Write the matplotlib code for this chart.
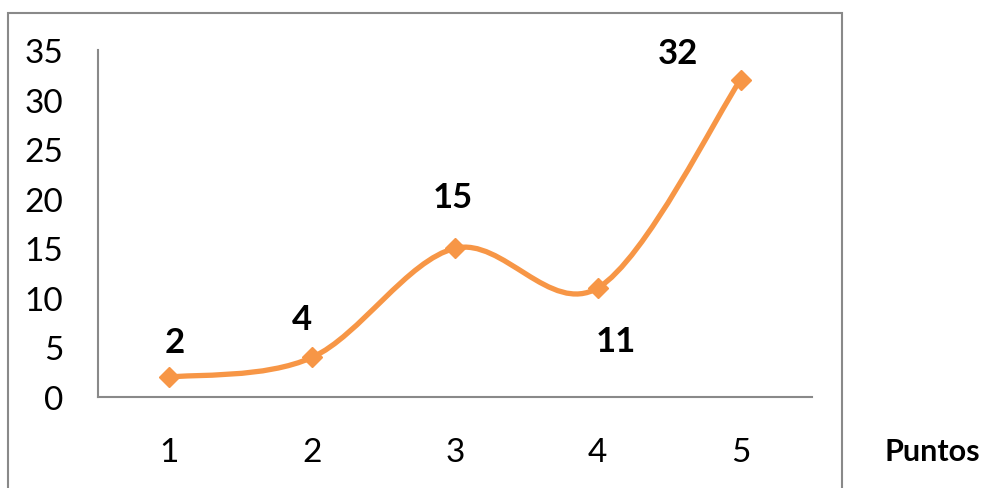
import numpy as np
import matplotlib
matplotlib.use('Agg')
import matplotlib.pyplot as plt
from matplotlib.path import Path
from matplotlib.patches import PathPatch, Rectangle

plt.rcParams['font.family'] = ['Lato', 'DejaVu Sans']

x_vals = [1, 2, 3, 4, 5]
y_vals = [2, 4, 15, 11, 32]
y_ticks = [0, 5, 10, 15, 20, 25, 30, 35]
x_label = 'Puntos'
# label offsets in pixels (dx, dy) relative to each point
label_offsets = [(5, 35), (-10, 38), (-2, 51), (18, -53), (-63, 27)]

ORANGE = '#F79646'
GRAY = '#898989'


def smooth_path(xs, ys):
    # Excel-style smoothed line: cubic Bezier through each pair of points
    pts = np.column_stack([xs, ys]).astype(float)
    n = len(pts)
    verts = [pts[0]]
    codes = [Path.MOVETO]
    for i in range(n - 1):
        p0 = pts[i - 1] if i > 0 else pts[i]
        p1 = pts[i]
        p2 = pts[i + 1]
        p3 = pts[i + 2] if i + 2 < n else pts[i + 1]
        c1 = p1 + (p2 - p0) / 6.0
        c2 = p2 - (p3 - p1) / 6.0
        verts += [c1, c2, p2]
        codes += [Path.CURVE4] * 3
    return Path(verts, codes)


fig = plt.figure(figsize=(9.89, 4.89), dpi=100)
W, H = 989, 489
ax = fig.add_axes([98 / W, (H - 398) / H, (812 - 98) / W, (398 - 51) / H])

# outer chart border
fig.patches.append(Rectangle((8 / W, -0.05), (842 - 8) / W, (H - 14) / H + 0.05,
                             transform=fig.transFigure, fill=False,
                             edgecolor=GRAY, linewidth=1.5))

ax.add_patch(PathPatch(smooth_path(x_vals, y_vals), facecolor='none',
                       edgecolor=ORANGE, linewidth=3.8, capstyle='butt'))
ax.plot(x_vals, y_vals, linestyle='none', marker='D', markersize=10,
        color=ORANGE, clip_on=False)

for xv, yv, (dx, dy) in zip(x_vals, y_vals, label_offsets):
    ax.annotate(str(yv), (xv, yv), xytext=(dx * 0.72, dy * 0.72),
                textcoords='offset points', ha='center', va='center',
                fontsize=25, fontweight='bold', color='black')

ax.set_xlim(0.5, 5.5)
ax.set_ylim(0, 35)
ax.set_xticks(x_vals)
ax.set_yticks(y_ticks)
ax.tick_params(axis='both', length=0, labelsize=24, colors='black')
ax.tick_params(axis='y', pad=25)
ax.tick_params(axis='x', pad=29)

for side in ['top', 'right']:
    ax.spines[side].set_visible(False)
for side in ['left', 'bottom']:
    ax.spines[side].set_color(GRAY)
    ax.spines[side].set_linewidth(1.5)

fig.text(932 / W, (H - 452) / H, x_label, ha='center', va='center',
         fontsize=22, fontweight='bold')

fig.savefig('out.png', dpi=100)
